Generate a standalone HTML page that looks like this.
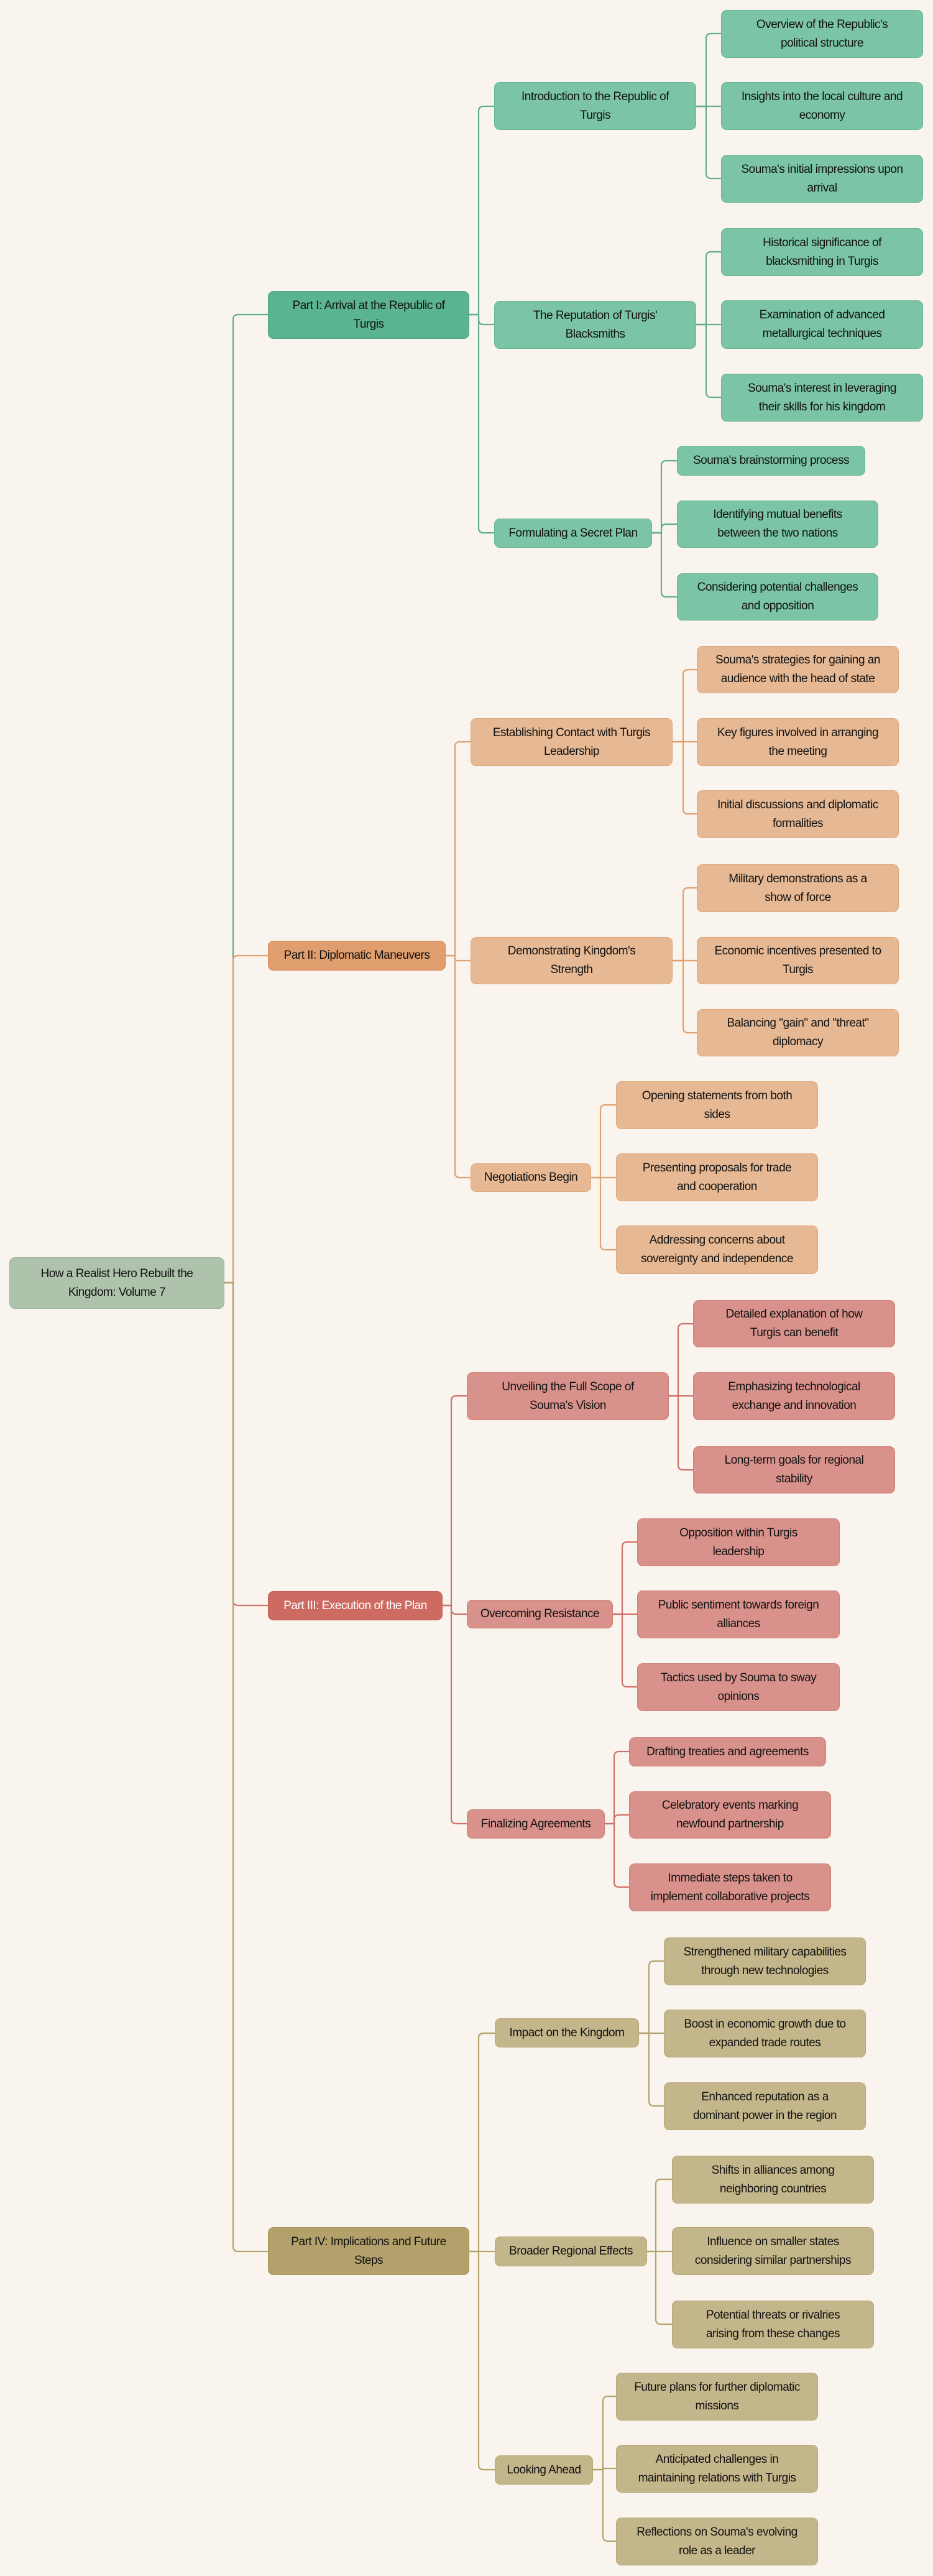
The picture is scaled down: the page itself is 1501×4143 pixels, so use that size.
<!DOCTYPE html>
<html><head><meta charset="utf-8"><style>
html,body{margin:0;padding:0;background:#f9f5ee;}
body{width:1501px;height:4143px;position:relative;overflow:hidden;font-family:"Liberation Sans",sans-serif;}
.b{position:absolute;box-sizing:border-box;border-radius:9px;display:flex;align-items:center;justify-content:center;text-align:center;font-size:19px;letter-spacing:-0.5px;line-height:30px;color:#111;white-space:nowrap;border:1.5px solid}
.r{background:#afc3ac;border-color:#9fb59b}
.g1{background:#5ab491;border-color:#4ea583}
.g2{background:#7bc4a6;border-color:#6ab595}
.o1{background:#e09d6e;border-color:#d98d5a}
.o2{background:#e6b994;border-color:#dfa77a}
.d1{background:#cd6b63;border-color:#c45c54;color:#fff}
.d2{background:#d9928b;border-color:#cf7f77}
.y1{background:#b3a06a;border-color:#a8945d}
.y2{background:#c4b68b;border-color:#b8a775}
svg{position:absolute;left:0;top:0}
path{fill:none;stroke-width:2.2}
</style></head><body>
<svg width="1501" height="4143">
<g stroke="#5fae8c">
<path d="M361 2063 H375 V514 Q375 506 383 506 H431"/>
<path d="M755 506 H770 V179 Q770 171 778 171 H795"/>
<path d="M755 506 H770 V514 Q770 522 778 522 H795"/>
<path d="M755 506 H770 V849 Q770 857 778 857 H795"/>
<path d="M1120 171 H1136 V62 Q1136 54 1144 54 H1160"/>
<path d="M1120 171 H1160"/>
<path d="M1120 171 H1136 V279 Q1136 287 1144 287 H1160"/>
<path d="M1120 522 H1136 V413 Q1136 405 1144 405 H1160"/>
<path d="M1120 522 H1160"/>
<path d="M1120 522 H1136 V631 Q1136 639 1144 639 H1160"/>
<path d="M1049 857 H1064 V749 Q1064 741 1072 741 H1089"/>
<path d="M1049 857 H1064 V851 Q1064 843 1072 843 H1089"/>
<path d="M1049 857 H1064 V952 Q1064 960 1072 960 H1089"/>
</g>
<g stroke="#e0a070">
<path d="M361 2063 H375 V1545 Q375 1537 383 1537 H431"/>
<path d="M717 1537 H732 V1201 Q732 1193 740 1193 H757"/>
<path d="M717 1537 H732 V1545 H757"/>
<path d="M717 1537 H732 V1886 Q732 1894 740 1894 H757"/>
<path d="M1082 1193 H1099 V1085 Q1099 1077 1107 1077 H1121"/>
<path d="M1082 1193 H1121"/>
<path d="M1082 1193 H1099 V1301 Q1099 1309 1107 1309 H1121"/>
<path d="M1082 1545 H1099 V1436 Q1099 1428 1107 1428 H1121"/>
<path d="M1082 1545 H1121"/>
<path d="M1082 1545 H1099 V1653 Q1099 1661 1107 1661 H1121"/>
<path d="M951 1894 H966 V1785 Q966 1777 974 1777 H991"/>
<path d="M951 1894 H991"/>
<path d="M951 1894 H966 V2002 Q966 2010 974 2010 H991"/>
</g>
<g stroke="#d0706a">
<path d="M361 2063 H375 V2574 Q375 2582 383 2582 H431"/>
<path d="M712 2582 H726 V2253 Q726 2245 734 2245 H751"/>
<path d="M712 2582 H726 V2588 Q726 2596 734 2596 H751"/>
<path d="M712 2582 H726 V2925 Q726 2933 734 2933 H751"/>
<path d="M1076 2245 H1091 V2137 Q1091 2129 1099 2129 H1115"/>
<path d="M1076 2245 H1115"/>
<path d="M1076 2245 H1091 V2356 Q1091 2364 1099 2364 H1115"/>
<path d="M986 2596 H1001 V2488 Q1001 2480 1009 2480 H1025"/>
<path d="M986 2596 H1025"/>
<path d="M986 2596 H1001 V2705 Q1001 2713 1009 2713 H1025"/>
<path d="M973 2933 H988 V2825 Q988 2817 996 2817 H1012"/>
<path d="M973 2933 H988 V2927 Q988 2919 996 2919 H1012"/>
<path d="M973 2933 H988 V3027 Q988 3035 996 3035 H1012"/>
</g>
<g stroke="#b5a36c">
<path d="M361 2063 H375 V3613 Q375 3621 383 3621 H431"/>
<path d="M755 3621 H770 V3278 Q770 3270 778 3270 H796"/>
<path d="M755 3621 H796"/>
<path d="M755 3621 H770 V3964 Q770 3972 778 3972 H796"/>
<path d="M1028 3270 H1044 V3162 Q1044 3154 1052 3154 H1068"/>
<path d="M1028 3270 H1068"/>
<path d="M1028 3270 H1044 V3379 Q1044 3387 1052 3387 H1068"/>
<path d="M1041 3621 H1055 V3513 Q1055 3505 1063 3505 H1081"/>
<path d="M1041 3621 H1081"/>
<path d="M1041 3621 H1055 V3730 Q1055 3738 1063 3738 H1081"/>
<path d="M954 3972 H970 V3862 Q970 3854 978 3854 H991"/>
<path d="M954 3972 H970 V3970 H991"/>
<path d="M954 3972 H970 V4079 Q970 4087 978 4087 H991"/>
</g>
</svg>

<div class="b r" style="left:15px;top:2022px;width:346px;height:83px">How a Realist Hero Rebuilt the<br>Kingdom: Volume 7</div>

<div class="b g1" style="left:431px;top:468px;width:324px;height:77px">Part I: Arrival at the Republic of<br>Turgis</div>
<div class="b g2" style="left:795px;top:132px;width:325px;height:77px">Introduction to the Republic of<br>Turgis</div>
<div class="b g2" style="left:795px;top:484px;width:325px;height:77px">The Reputation of Turgis'<br>Blacksmiths</div>
<div class="b g2" style="left:795px;top:834px;width:254px;height:47px">Formulating a Secret Plan</div>
<div class="b g2" style="left:1160px;top:16px;width:325px;height:77px">Overview of the Republic's<br>political structure</div>
<div class="b g2" style="left:1160px;top:132px;width:325px;height:77px">Insights into the local culture and<br>economy</div>
<div class="b g2" style="left:1160px;top:249px;width:325px;height:77px">Souma's initial impressions upon<br>arrival</div>
<div class="b g2" style="left:1160px;top:367px;width:325px;height:77px">Historical significance of<br>blacksmithing in Turgis</div>
<div class="b g2" style="left:1160px;top:483px;width:325px;height:78px">Examination of advanced<br>metallurgical techniques</div>
<div class="b g2" style="left:1160px;top:601px;width:325px;height:77px">Souma's interest in leveraging<br>their skills for his kingdom</div>
<div class="b g2" style="left:1089px;top:717px;width:303px;height:48px">Souma's brainstorming process</div>
<div class="b g2" style="left:1089px;top:805px;width:324px;height:76px">Identifying mutual benefits<br>between the two nations</div>
<div class="b g2" style="left:1089px;top:922px;width:324px;height:76px">Considering potential challenges<br>and opposition</div>

<div class="b o1" style="left:431px;top:1513px;width:286px;height:48px">Part II: Diplomatic Maneuvers</div>
<div class="b o2" style="left:757px;top:1155px;width:325px;height:77px">Establishing Contact with Turgis<br>Leadership</div>
<div class="b o2" style="left:757px;top:1507px;width:325px;height:76px">Demonstrating Kingdom's<br>Strength</div>
<div class="b o2" style="left:757px;top:1871px;width:194px;height:46px">Negotiations Begin</div>
<div class="b o2" style="left:1121px;top:1039px;width:325px;height:76px">Souma's strategies for gaining an<br>audience with the head of state</div>
<div class="b o2" style="left:1121px;top:1155px;width:325px;height:77px">Key figures involved in arranging<br>the meeting</div>
<div class="b o2" style="left:1121px;top:1271px;width:325px;height:77px">Initial discussions and diplomatic<br>formalities</div>
<div class="b o2" style="left:1121px;top:1390px;width:325px;height:77px">Military demonstrations as a<br>show of force</div>
<div class="b o2" style="left:1121px;top:1507px;width:325px;height:76px">Economic incentives presented to<br>Turgis</div>
<div class="b o2" style="left:1121px;top:1623px;width:325px;height:76px">Balancing "gain" and "threat"<br>diplomacy</div>
<div class="b o2" style="left:991px;top:1739px;width:325px;height:77px">Opening statements from both<br>sides</div>
<div class="b o2" style="left:991px;top:1855px;width:325px;height:77px">Presenting proposals for trade<br>and cooperation</div>
<div class="b o2" style="left:991px;top:1971px;width:325px;height:78px">Addressing concerns about<br>sovereignty and independence</div>

<div class="b d1" style="left:431px;top:2559px;width:281px;height:47px">Part III: Execution of the Plan</div>
<div class="b d2" style="left:751px;top:2207px;width:325px;height:77px">Unveiling the Full Scope of<br>Souma's Vision</div>
<div class="b d2" style="left:751px;top:2573px;width:235px;height:46px">Overcoming Resistance</div>
<div class="b d2" style="left:751px;top:2910px;width:222px;height:47px">Finalizing Agreements</div>
<div class="b d2" style="left:1115px;top:2091px;width:325px;height:76px">Detailed explanation of how<br>Turgis can benefit</div>
<div class="b d2" style="left:1115px;top:2207px;width:325px;height:77px">Emphasizing technological<br>exchange and innovation</div>
<div class="b d2" style="left:1115px;top:2326px;width:325px;height:76px">Long-term goals for regional<br>stability</div>
<div class="b d2" style="left:1025px;top:2442px;width:326px;height:77px">Opposition within Turgis<br>leadership</div>
<div class="b d2" style="left:1025px;top:2558px;width:326px;height:77px">Public sentiment towards foreign<br>alliances</div>
<div class="b d2" style="left:1025px;top:2675px;width:326px;height:77px">Tactics used by Souma to sway<br>opinions</div>
<div class="b d2" style="left:1012px;top:2794px;width:317px;height:47px">Drafting treaties and agreements</div>
<div class="b d2" style="left:1012px;top:2881px;width:325px;height:76px">Celebratory events marking<br>newfound partnership</div>
<div class="b d2" style="left:1012px;top:2997px;width:325px;height:77px">Immediate steps taken to<br>implement collaborative projects</div>

<div class="b y1" style="left:431px;top:3582px;width:324px;height:77px">Part IV: Implications and Future<br>Steps</div>
<div class="b y2" style="left:796px;top:3246px;width:232px;height:47px">Impact on the Kingdom</div>
<div class="b y2" style="left:796px;top:3597px;width:245px;height:48px">Broader Regional Effects</div>
<div class="b y2" style="left:796px;top:3949px;width:158px;height:47px">Looking Ahead</div>
<div class="b y2" style="left:1068px;top:3116px;width:325px;height:77px">Strengthened military capabilities<br>through new technologies</div>
<div class="b y2" style="left:1068px;top:3232px;width:325px;height:77px">Boost in economic growth due to<br>expanded trade routes</div>
<div class="b y2" style="left:1068px;top:3349px;width:325px;height:77px">Enhanced reputation as a<br>dominant power in the region</div>
<div class="b y2" style="left:1081px;top:3467px;width:325px;height:77px">Shifts in alliances among<br>neighboring countries</div>
<div class="b y2" style="left:1081px;top:3582px;width:325px;height:77px">Influence on smaller states<br>considering similar partnerships</div>
<div class="b y2" style="left:1081px;top:3700px;width:325px;height:77px">Potential threats or rivalries<br>arising from these changes</div>
<div class="b y2" style="left:991px;top:3816px;width:325px;height:77px">Future plans for further diplomatic<br>missions</div>
<div class="b y2" style="left:991px;top:3932px;width:325px;height:77px">Anticipated challenges in<br>maintaining relations with Turgis</div>
<div class="b y2" style="left:991px;top:4049px;width:325px;height:77px">Reflections on Souma's evolving<br>role as a leader</div>
</body></html>
